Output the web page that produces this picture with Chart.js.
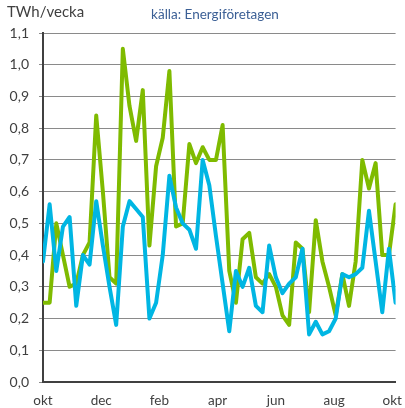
<!DOCTYPE html>
<html>
<head>
<meta charset="utf-8">
<script src="https://cdn.jsdelivr.net/npm/chart.js@4.4.1/dist/chart.umd.min.js"></script>
<style>
    body { margin: 0; background: #fff; }
    #wrap { position: relative; width: 405px; height: 408px; font-family: Lato, sans-serif; }
    #unit { position: absolute; left: 7px; top: 2px; font-size: 15px; color: #404040; }
    #source { position: absolute; left: 0; width: 430px; text-align: center; top: 6px; font-size: 13.5px; color: #3b5f95; }
    canvas { position: absolute; left: 0; top: 0; }
</style>
</head>
<body>
<div id="wrap">
    <canvas id="chart" width="405" height="408"></canvas>
    <div id="unit">TWh/vecka</div>
    <div id="source">källa: Energiföretagen</div>
</div>
<script>
// week number within the season (okt -> okt)
const weeks = [0, 1, 2, 3, 4, 5, 6, 7, 8, 9, 10, 11, 12, 13, 14, 15, 16, 17, 18, 19,
    20, 21, 22, 23, 24, 25, 26, 27, 28, 29, 30, 31, 32, 33, 34, 35, 36, 37, 38, 39,
    40, 41, 42, 43, 44, 45, 46, 47, 48, 49, 50, 51, 52, 53];

const greenSeries = [0.25, 0.25, 0.50, 0.40, 0.30, 0.31, 0.40, 0.44, 0.84, 0.60,
    0.33, 0.31, 1.05, 0.87, 0.76, 0.92, 0.43, 0.68, 0.77, 0.98,
    0.49, 0.50, 0.75, 0.69, 0.74, 0.70, 0.70, 0.81, 0.35, 0.25,
    0.45, 0.47, 0.33, 0.31, 0.34, 0.30, 0.21, 0.18, 0.44, 0.42,
    0.22, 0.51, 0.38, 0.30, 0.21, 0.34, 0.24, 0.38, 0.70, 0.61,
    0.69, 0.40, 0.40, 0.56];

const blueSeries = [0.38, 0.56, 0.35, 0.49, 0.52, 0.24, 0.40, 0.37, 0.57, 0.43,
    0.30, 0.18, 0.49, 0.57, 0.545, 0.52, 0.20, 0.25, 0.40, 0.65,
    0.55, 0.50, 0.48, 0.42, 0.70, 0.62, 0.46, 0.31, 0.16, 0.35,
    0.30, 0.36, 0.24, 0.22, 0.43, 0.33, 0.28, 0.31, 0.33, 0.42,
    0.15, 0.19, 0.15, 0.16, 0.20, 0.34, 0.33, 0.34, 0.36, 0.54,
    0.38, 0.22, 0.42, 0.25];

const monthTicks = [0, 8.75, 17.5, 26.25, 35, 43.75, 52.5];
const monthLabels = ['okt', 'dec', 'feb', 'apr', 'jun', 'aug', 'okt'];

Chart.defaults.font.family = 'Lato, sans-serif';
Chart.defaults.color = '#404040';

new Chart(document.getElementById('chart'), {
    type: 'line',
    data: {
        labels: weeks,
        datasets: [{
            label: 'blue',
            data: blueSeries,
            borderColor: '#00b6e3',
            borderWidth: 4,
            order: 0
        }, {
            label: 'green',
            data: greenSeries,
            borderColor: '#7fbb00',
            borderWidth: 4,
            order: 1
        }]
    },
    options: {
        responsive: false,
        animation: false,
        elements: {
            point: { radius: 0 },
            line: { tension: 0, borderJoinStyle: 'round', borderCapStyle: 'round' }
        },
        layout: { padding: { top: 33, right: 7, left: 0, bottom: 0 } },
        plugins: {
            legend: { display: false },
            tooltip: { enabled: false }
        },
        scales: {
            x: {
                type: 'linear',
                min: 0,
                max: 53,
                afterBuildTicks: function (scale) {
                    scale.ticks = monthTicks.map(v => ({ value: v }));
                },
                afterFit: function (scale) { scale.height = 26; },
                grid: { display: false },
                border: { display: true, color: '#404040', width: 2 },
                ticks: {
                    autoSkip: false,
                    maxRotation: 0,
                    padding: 3,
                    font: { size: 13.5 },
                    callback: function (value, index) { return monthLabels[index]; }
                }
            },
            y: {
                min: 0,
                max: 1.1,
                afterFit: function (scale) { scale.width = 43; },
                grid: { color: '#8a8a8a', lineWidth: 1, tickLength: 4 },
                border: { display: true, color: '#404040', width: 2 },
                ticks: {
                    stepSize: 0.1,
                    padding: 10,
                    font: { size: 14 },
                    callback: function (value) { return value.toFixed(1).replace('.', ','); }
                }
            }
        }
    }
});
</script>
</body>
</html>
